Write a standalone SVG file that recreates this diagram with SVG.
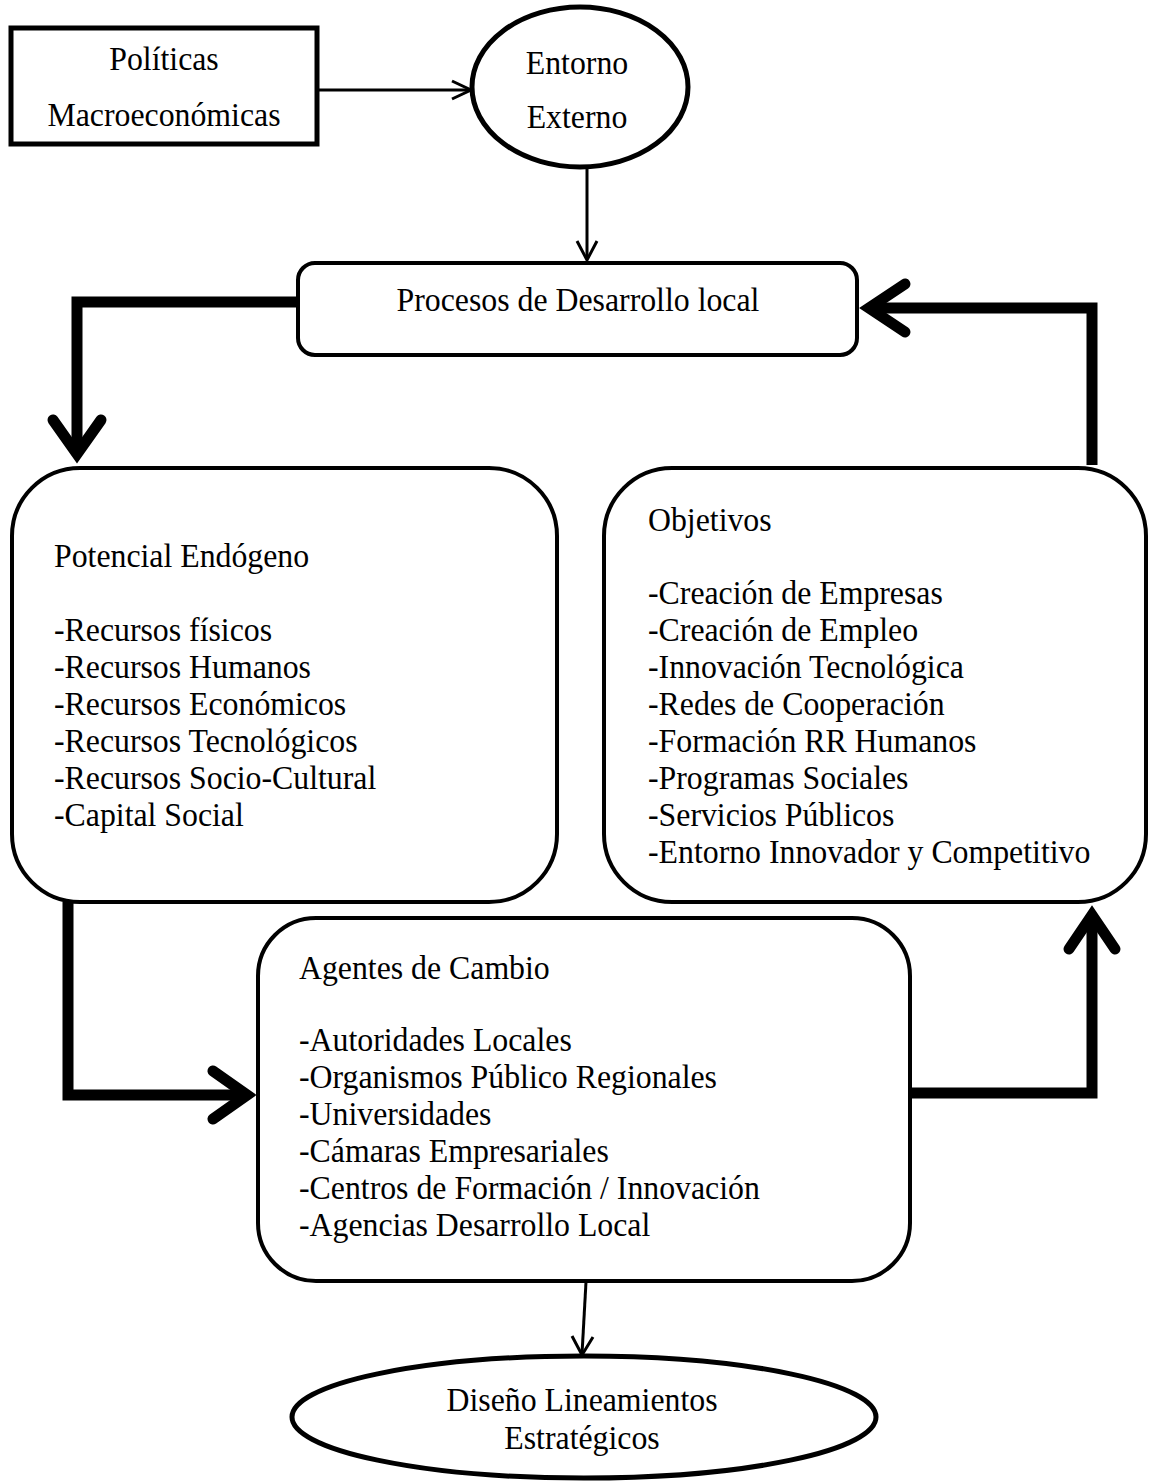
<svg xmlns="http://www.w3.org/2000/svg" width="1153" height="1484" viewBox="0 0 1153 1484">
<style>
.box{fill:#fff;stroke:#000;stroke-width:4}
.heavy{stroke-width:5}
.t{font-family:"Liberation Serif","Times New Roman",serif;font-size:31.8px;fill:#000}
.c{text-anchor:middle}
.thin{fill:none;stroke:#000;stroke-width:3}
.thick{fill:none;stroke:#000;stroke-width:11;stroke-linejoin:miter}
.head{fill:none;stroke:#000;stroke-width:11;stroke-linecap:round;stroke-linejoin:miter}
</style>
<rect width="1153" height="1484" fill="#fff"/>
<g id="connectors">
<path class="thin" d="M316,90 H470"/>
<path class="thin" d="M452,81 L471,90 L452,99"/>
<path class="thin" d="M587,167 V259"/>
<path class="thin" d="M577,241 L587,260 L597,241"/>
<path class="thick" d="M297,302 H77 V452"/>
<path class="head" d="M53,420 L77,454 L101,420"/>
<path class="thick" d="M1092,465 V308 H871"/>
<path class="head" d="M905,284 L869,308 L905,332"/>
<path class="thick" d="M68,902 V1095 H245"/>
<path class="head" d="M213,1071 L247,1095 L213,1119"/>
<path class="thick" d="M910,1093 H1092 V917"/>
<path class="head" d="M1069,949 L1092,915 L1115,949"/>
<path class="thin" d="M586,1282 L582,1354"/>
<path class="thin" d="M572,1336 L582,1355 L593,1337"/>
</g>
<g id="politicas">
<rect class="box heavy" x="11" y="28" width="306" height="116"/>
<text class="t c" transform="translate(164 70) scale(1 1.07)">Políticas</text>
<text class="t c" transform="translate(164 126) scale(1 1.07)">Macroeconómicas</text>
</g>
<g id="entorno">
<ellipse class="box heavy" cx="580" cy="87" rx="108" ry="80"/>
<text class="t c" transform="translate(577 74) scale(1 1.07)">Entorno</text>
<text class="t c" transform="translate(577 128) scale(1 1.07)">Externo</text>
</g>
<g id="procesos">
<rect class="box" x="298" y="263" width="559" height="92" rx="17"/>
<text class="t c" transform="translate(578 311) scale(1 1.07)">Procesos de Desarrollo local</text>
</g>
<g id="potencial">
<rect class="box" x="12" y="468" width="545" height="434" rx="68"/>
<text class="t" transform="translate(54 567) scale(1 1.07)">Potencial Endógeno</text>
<text class="t" transform="translate(54 641) scale(1 1.07)">-Recursos físicos</text>
<text class="t" transform="translate(54 678) scale(1 1.07)">-Recursos Humanos</text>
<text class="t" transform="translate(54 715) scale(1 1.07)">-Recursos Económicos</text>
<text class="t" transform="translate(54 752) scale(1 1.07)">-Recursos Tecnológicos</text>
<text class="t" transform="translate(54 789) scale(1 1.07)">-Recursos Socio-Cultural</text>
<text class="t" transform="translate(54 826) scale(1 1.07)">-Capital Social</text>
</g>
<g id="objetivos">
<rect class="box" x="604" y="468" width="542" height="434" rx="68"/>
<text class="t" transform="translate(648 531) scale(1 1.07)">Objetivos</text>
<text class="t" transform="translate(648 604) scale(1 1.07)">-Creación de Empresas</text>
<text class="t" transform="translate(648 641) scale(1 1.07)">-Creación de Empleo</text>
<text class="t" transform="translate(648 678) scale(1 1.07)">-Innovación Tecnológica</text>
<text class="t" transform="translate(648 715) scale(1 1.07)">-Redes de Cooperación</text>
<text class="t" transform="translate(648 752) scale(1 1.07)">-Formación RR Humanos</text>
<text class="t" transform="translate(648 789) scale(1 1.07)">-Programas Sociales</text>
<text class="t" transform="translate(648 826) scale(1 1.07)">-Servicios Públicos</text>
<text class="t" transform="translate(648 863) scale(1 1.07)">-Entorno Innovador y Competitivo</text>
</g>
<g id="agentes">
<rect class="box" x="258" y="918" width="652" height="363" rx="58"/>
<text class="t" transform="translate(299 979) scale(1 1.07)">Agentes de Cambio</text>
<text class="t" transform="translate(299 1051) scale(1 1.07)">-Autoridades Locales</text>
<text class="t" transform="translate(299 1088) scale(1 1.07)">-Organismos Público Regionales</text>
<text class="t" transform="translate(299 1125) scale(1 1.07)">-Universidades</text>
<text class="t" transform="translate(299 1162) scale(1 1.07)">-Cámaras Empresariales</text>
<text class="t" transform="translate(299 1199) scale(1 1.07)">-Centros de Formación / Innovación</text>
<text class="t" transform="translate(299 1236) scale(1 1.07)">-Agencias Desarrollo Local</text>
</g>
<g id="diseno">
<ellipse class="box heavy" cx="584" cy="1417" rx="292" ry="61"/>
<text class="t c" transform="translate(582 1411) scale(1 1.07)">Diseño Lineamientos</text>
<text class="t c" transform="translate(582 1449) scale(1 1.07)">Estratégicos</text>
</g>
</svg>
